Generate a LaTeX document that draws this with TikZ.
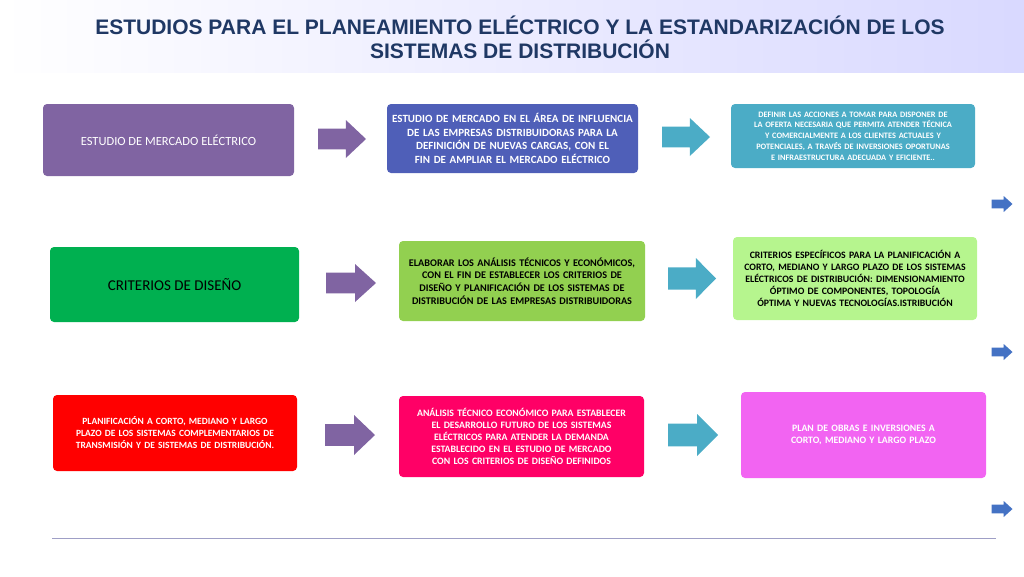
\documentclass[tikz,border=0pt]{standalone}
\usepackage{fontspec}
\setmainfont{Carlito}
\newfontfamily\titlefont{Liberation Sans}
\usetikzlibrary{positioning}
\hyphenpenalty=10000
\exhyphenpenalty=10000
\definecolor{navy}{HTML}{1F3864}
\definecolor{cpurple}{HTML}{8064A2}
\definecolor{cblue}{HTML}{4F5FB8}
\definecolor{cteal}{HTML}{4BACC6}
\definecolor{cgreen}{HTML}{00B050}
\definecolor{clgreen}{HTML}{92D050}
\definecolor{cpgreen}{HTML}{B6F58E}
\definecolor{cred}{HTML}{FF0000}
\definecolor{cmag}{HTML}{FF0066}
\definecolor{cpink}{HTML}{F264F2}
\definecolor{csmall}{HTML}{4472C4}
\tikzset{
  box/.style={rounded corners=4pt,align=center,inner sep=2pt},
}
\newcommand{\blockarrow}[6]{% x,y(center), length, height, color, name
  \path[fill=#5] ({#1-#3/2},{#2-#4*0.27}) -- ({#1+#3/2-#3*0.42},{#2-#4*0.27}) -- ({#1+#3/2-#3*0.42},{#2-#4/2}) -- ({#1+#3/2},{#2}) -- ({#1+#3/2-#3*0.42},{#2+#4/2}) -- ({#1+#3/2-#3*0.42},{#2+#4*0.27}) -- ({#1-#3/2},{#2+#4*0.27}) -- cycle;
  \coordinate (#6) at (#1,#2);}
\begin{document}
\begin{tikzpicture}[x=1pt,y=-1pt]
\useasboundingbox (0,0) rectangle (1024,576);
\shade[left color=white,right color=blue!15!white] (0,0) rectangle (1024,72);
\node[font=\titlefont\bfseries\fontsize{21}{24}\selectfont,text=navy,align=center] (title) at (520,37) {ESTUDIOS PARA EL PLANEAMIENTO ELÉCTRICO Y LA ESTANDARIZACIÓN DE LOS\\SISTEMAS DE DISTRIBUCIÓN};
% row 1
\node[box,fill=cpurple,text=white,minimum width=251pt,minimum height=72pt,font=\fontsize{12.5}{15}\selectfont] (a1) at (168.5,140) {ESTUDIO DE MERCADO ELÉCTRICO};
\node[box,fill=cblue,text=white,minimum width=251pt,minimum height=69pt,text width=245pt,font=\bfseries\fontsize{11}{13.5}\selectfont] (a2) at (512.5,138.5) {ESTUDIO DE MERCADO EN EL ÁREA DE INFLUENCIA DE LAS EMPRESAS DISTRIBUIDORAS PARA LA DEFINICIÓN DE NUEVAS CARGAS, CON EL FIN DE AMPLIAR EL MERCADO ELÉCTRICO};
\node[box,fill=cteal,text=white,minimum width=244pt,minimum height=64pt,text width=240pt,font=\bfseries\fontsize{8.3}{10.8}\selectfont] (a3) at (853,136) {DEFINIR LAS ACCIONES A TOMAR PARA DISPONER DE LA OFERTA NECESARIA QUE PERMITA ATENDER TÉCNICA Y COMERCIALMENTE A LOS CLIENTES ACTUALES Y POTENCIALES, A TRAVÉS DE INVERSIONES OPORTUNAS E INFRAESTRUCTURA ADECUADA Y EFICIENTE..};
% row 2
\node[box,fill=cgreen,text=black,minimum width=249pt,minimum height=75pt,font=\fontsize{15}{17}\selectfont] (b1) at (174.5,284.5) {CRITERIOS DE DISEÑO};
\node[box,fill=clgreen,text=black,minimum width=246pt,minimum height=80pt,text width=240pt,font=\bfseries\fontsize{10.2}{12.8}\selectfont] (b2) at (522,281) {ELABORAR LOS ANÁLISIS TÉCNICOS Y ECONÓMICOS, CON EL FIN DE ESTABLECER LOS CRITERIOS DE DISEÑO Y PLANIFICACIÓN DE LOS SISTEMAS DE DISTRIBUCIÓN DE LAS EMPRESAS DISTRIBUIDORAS};
\node[box,fill=cpgreen,text=black,minimum width=244pt,minimum height=83pt,text width=240pt,font=\bfseries\fontsize{9.8}{12}\selectfont] (b3) at (855,278.5) {CRITERIOS ESPECÍFICOS PARA LA PLANIFICACIÓN A CORTO, MEDIANO Y LARGO PLAZO DE LOS SISTEMAS ELÉCTRICOS DE DISTRIBUCIÓN: DIMENSIONAMIENTO ÓPTIMO DE COMPONENTES, TOPOLOGÍA ÓPTIMA Y NUEVAS TECNOLOGÍAS.ISTRIBUCIÓN};
% row 3
\node[box,fill=cred,text=white,minimum width=244pt,minimum height=76pt,text width=240pt,font=\bfseries\fontsize{9.5}{12}\selectfont] (c1) at (175,433) {PLANIFICACIÓN A CORTO, MEDIANO Y LARGO PLAZO DE LOS SISTEMAS COMPLEMENTARIOS DE TRANSMISIÓN Y DE SISTEMAS DE DISTRIBUCIÓN.};
\node[box,fill=cmag,text=white,minimum width=245pt,minimum height=81pt,text width=240pt,font=\bfseries\fontsize{9.8}{12}\selectfont] (c2) at (521.5,436.5) {ANÁLISIS TÉCNICO ECONÓMICO PARA ESTABLECER EL DESARROLLO FUTURO DE LOS SISTEMAS ELÉCTRICOS PARA ATENDER LA DEMANDA ESTABLECIDO EN EL ESTUDIO DE MERCADO CON LOS CRITERIOS DE DISEÑO DEFINIDOS};
\node[box,fill=cpink,text=white,minimum width=245pt,minimum height=86pt,text width=235pt,font=\bfseries\fontsize{9.8}{12}\selectfont] (c3) at (863.5,435) {PLAN DE OBRAS E INVERSIONES A CORTO, MEDIANO Y LARGO PLAZO};
% block arrows
\blockarrow{342}{139}{48}{38}{cpurple}{p1}
\blockarrow{686}{137}{48}{38}{cteal}{t1}
\blockarrow{351}{283}{50}{38}{cpurple}{p2}
\blockarrow{692}{278.5}{48}{41}{cteal}{t2}
\blockarrow{350}{435}{50}{40}{cpurple}{p3}
\blockarrow{693}{435}{50}{42}{cteal}{t3}
% small arrows
\blockarrow{1002}{204}{21}{16}{csmall}{s1}
\blockarrow{1002}{352}{21}{16}{csmall}{s2}
\blockarrow{1002}{509}{21}{16}{csmall}{s3}
\coordinate (l1) at (52,538);
\coordinate (l2) at (996,538);
\draw[blue!25!gray!60,line width=0.8pt] (l1) -- (l2);
\end{tikzpicture}
\end{document}
